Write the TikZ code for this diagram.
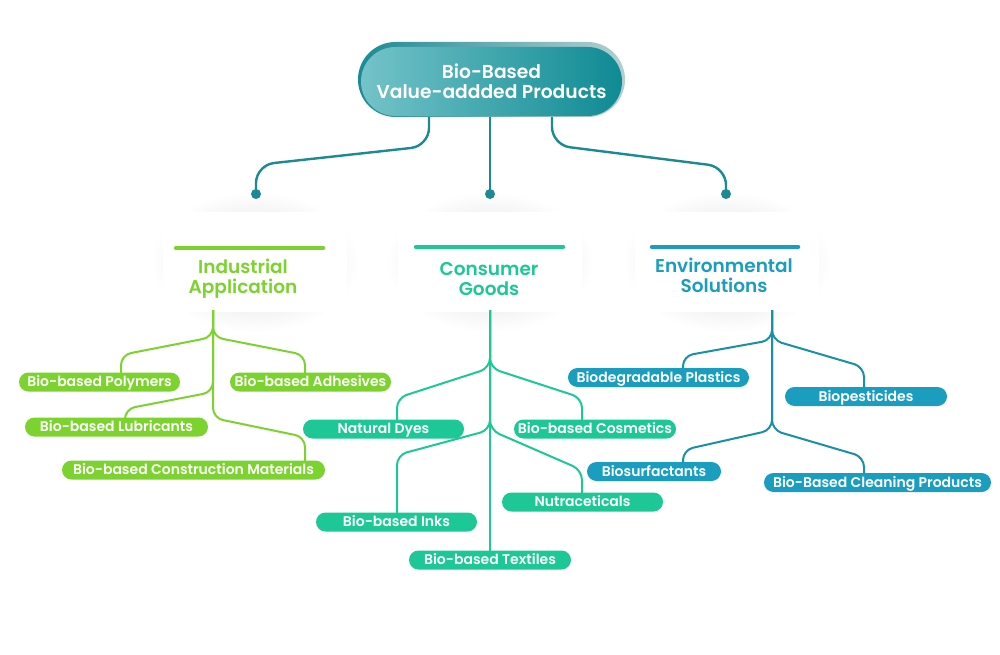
\documentclass[tikz,border=0pt]{standalone}
\usepackage{fontspec}
\setmainfont{Poppins}
\newfontfamily\popsb{Poppins SemiBold}
\newfontfamily\popmd{Poppins Medium}
\usetikzlibrary{calc}
\definecolor{indc}{HTML}{7CD32F}
\definecolor{conc}{HTML}{1DC896}
\definecolor{envc}{HTML}{1B9DC0}
\definecolor{envl}{HTML}{1A8FA8}
\definecolor{topc}{HTML}{1B8A94}
\definecolor{topl}{HTML}{74C3C9}
\definecolor{topr}{HTML}{0F8A93}
\definecolor{rimr}{HTML}{B5CFD2}
\pgfdeclarelayer{bg}
\pgfdeclarelayer{lines}
\pgfsetlayers{bg,lines,main}
\tikzset{
  leaf/.style={rectangle, rounded corners=9.5pt, minimum height=19pt, inner sep=0pt,
    text height=10pt, text depth=0.5pt,
    text=white, font=\popsb\fontsize{14}{15}\selectfont},
  card/.style={rectangle, fill=white, minimum width=184pt, minimum height=100pt, inner sep=0pt},
  cattitle/.style={align=center, font=\popsb\fontsize{18.5}{20}\selectfont, inner sep=0pt},
  conn/.style={line width=2pt, rounded corners=10pt},
  topline/.style={line width=2.4pt, rounded corners=18pt, topc},
  dot/.style={circle, fill=topc, minimum size=10pt, inner sep=0pt},
  bar/.style={line width=4.5pt, line cap=round}
}
\begin{document}
\begin{tikzpicture}[x=1pt,y=-1pt]
\useasboundingbox (0,0) rectangle (1000,655);
\begin{pgfonlayer}{bg}
\fill[white] (0,0) rectangle (1000,655);
\foreach \cx in {255,490,727}{
  \shade[inner color=black!15, outer color=white] (\cx,262) ellipse (104 and 70);
}
\node[card] (indcard) at (255,262) {};
\node[card] (concard) at (490,262) {};
\node[card] (envcard) at (727,262) {};
\end{pgfonlayer}

% top pill
\node[rectangle, rounded corners=37.5pt, minimum width=267pt, minimum height=75pt,
  left color=topc, right color=rimr, inner sep=0pt] (toprim) at (491.5,79.5) {};
\node[rectangle, rounded corners=34.5pt, minimum width=261pt, minimum height=69pt,
  left color=topl, right color=topr, inner sep=0pt, text=white, align=center,
  font=\popsb\fontsize{18.7}{20.5}\selectfont] (top) at (491.5,81.5) {Bio-Based\\Value-addded Products};

\node[dot] (d1) at (256,194) {};
\node[dot] (d2) at (490,194) {};
\node[dot] (d3) at (726,194) {};

% category titles
\draw[bar, indc] (176,248) -- (323,248);
\draw[bar, conc] (416,247) -- (563,247);
\draw[bar, envc] (652,247) -- (798,247);
\node[cattitle, text=indc] (indt) at (243,279) {Industrial\\Application};
\node[cattitle, text=conc] (cont) at (489,279) {Consumer\\Goods};
\node[cattitle, text=envc] (envt) at (724,275) {Environmental\\Solutions};

% leaves
\node[leaf, fill=indc, minimum width=161pt] (poly) at (99.5,382) {Bio-based Polymers};
\node[leaf, fill=indc, minimum width=161pt] (adhes) at (310.5,382) {Bio-based Adhesives};
\node[leaf, fill=indc, minimum width=183pt] (lubr) at (116.5,427) {Bio-based Lubricants};
\node[leaf, fill=indc, minimum width=263pt] (constr) at (193.5,470) {Bio-based Construction Materials};

\node[leaf, fill=conc, minimum width=161pt] (dyes) at (383.5,429) {Natural Dyes};
\node[leaf, fill=conc, minimum width=162pt] (cosm) at (595,429) {Bio-based Cosmetics};
\node[leaf, fill=conc, minimum width=161pt] (inks) at (396.5,522) {Bio-based Inks};
\node[leaf, fill=conc, minimum width=161pt] (nutra) at (582.5,502) {Nutraceticals};
\node[leaf, fill=conc, minimum width=162pt] (texti) at (490,560) {Bio-based Textiles};

\node[leaf, fill=envc, minimum width=181pt] (plast) at (658.5,377.5) {Biodegradable Plastics};
\node[leaf, fill=envc, minimum width=162pt] (pest) at (866,396.5) {Biopesticides};
\node[leaf, fill=envc, minimum width=134pt] (surf) at (654,471.5) {Biosurfactants};
\node[leaf, fill=envc, minimum width=227pt] (clean) at (877.5,482.5) {Bio-Based Cleaning Products};

\coordinate (indr) at (213,310);
\coordinate (conr) at (490,310);
\coordinate (envr) at (772,310);

\begin{pgfonlayer}{lines}
% top connectors
\draw[topline] ($(toprim.south)+(-62.5,-4)$) -- (429,146) -- (256,165) -- (d1.center);
\draw[topline] ($(toprim.south)+(-1.5,-4)$) -- (d2.center);
\draw[topline] ($(toprim.south)+(60.5,-4)$) -- (552,145) -- (726,167) -- (d3.center);
% industrial
\draw[conn, indc] (indr) -- (213,337) -- (121,355) -- ($(poly.north)+(21.5,3)$);
\draw[conn, indc] (indr) -- (213,337) -- (305,355) -- ($(adhes.north)+(-5.5,3)$);
\draw[conn, indc] (indr) -- (213,392) -- (125,409) -- ($(lubr.north)+(8.5,3)$);
\draw[conn, indc] (indr) -- (213,418) -- (305,437) -- ($(constr.north)+(111.5,3)$);
% consumer
\draw[conn, conc] (conr) -- (490,368) -- (397,398) -- ($(dyes.north)+(13.5,3)$);
\draw[conn, conc] (conr) -- (490,368) -- (582,398) -- ($(cosm.north)+(-13,3)$);
\draw[conn, conc] (conr) -- (490,430) -- (397,455) -- ($(inks.north)+(0.5,3)$);
\draw[conn, conc] (conr) -- (490,430) -- (582,470) -- ($(nutra.north)+(-0.5,3)$);
\draw[conn, conc] (conr) -- ($(texti.north)+(0,3)$);
% environmental
\draw[conn, envl] (envr) -- (772,340) -- (683,356) -- ($(plast.north)+(24.5,3)$);
\draw[conn, envl] (envr) -- (772,340) -- (864,367) -- ($(pest.north)+(-2,3)$);
\draw[conn, envl] (envr) -- (772,430) -- (683,450) -- ($(surf.north)+(29,3)$);
\draw[conn, envl] (envr) -- (772,430) -- (864,457) -- ($(clean.north)+(-13.5,3)$);
\end{pgfonlayer}
\end{tikzpicture}
\end{document}
